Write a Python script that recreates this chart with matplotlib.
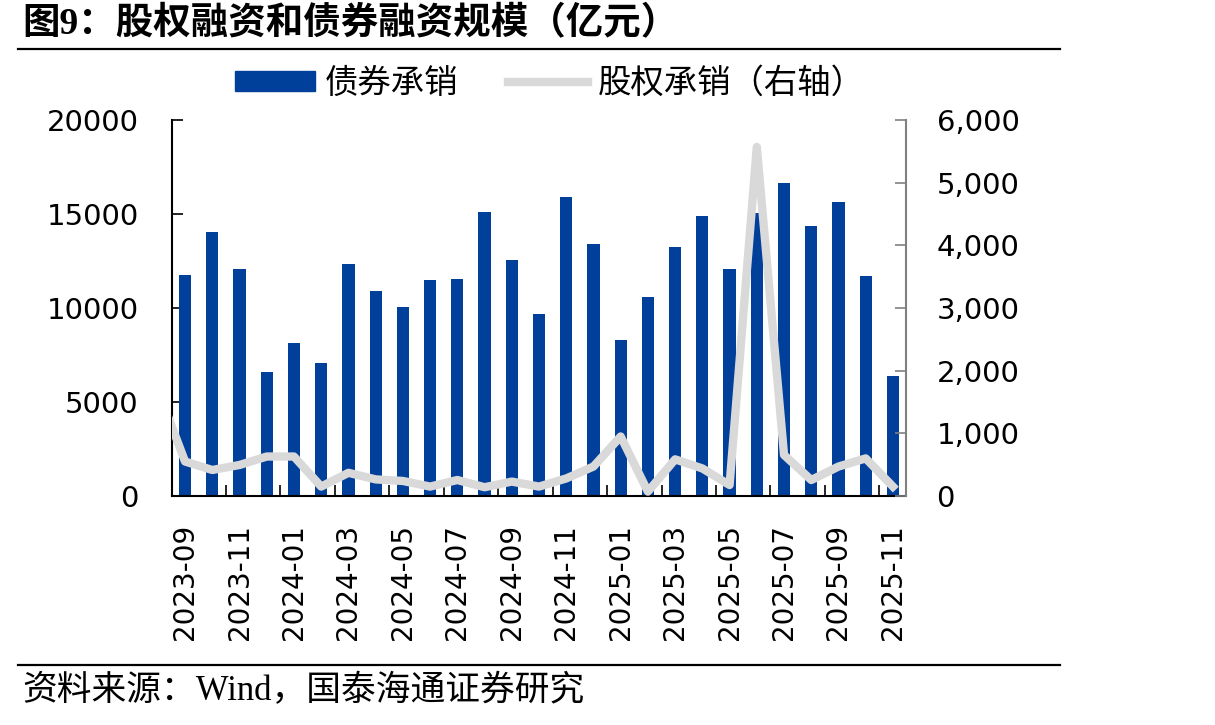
import numpy as np
import matplotlib.pyplot as plt
from matplotlib.lines import Line2D
from matplotlib.patches import Patch
from matplotlib.ticker import FuncFormatter

plt.rcParams['font.family'] = ['DejaVu Sans', 'Noto Sans CJK SC']

# 债券承销 (亿元), 2023-09 .. 2025-11
months = ['2023-09', '2023-10', '2023-11', '2023-12',
          '2024-01', '2024-02', '2024-03', '2024-04', '2024-05', '2024-06',
          '2024-07', '2024-08', '2024-09', '2024-10', '2024-11', '2024-12',
          '2025-01', '2025-02', '2025-03', '2025-04', '2025-05', '2025-06',
          '2025-07', '2025-08', '2025-09', '2025-10', '2025-11']
bond = [11740, 14040, 12070, 6580, 8140, 7070, 12340, 10890, 10040, 11470,
        11530, 15110, 12540, 9660, 15900, 13390, 8300, 10590, 13250, 14890,
        12070, 15050, 16650, 14360, 15620, 11700, 6400]

# 股权承销 (右轴), series starts one month earlier (2023-08, clipped at the axis)
eq_months = ['2023-08'] + months
equity = [1700, 550, 415, 495, 630, 630, 150, 370, 265, 240,
          150, 255, 140, 230, 150, 280, 470, 950, 70, 585,
          440, 175, 5570, 655, 255, 470, 600, 150]

blue = '#00409A'
grey_line = '#D9D9D9'

fig = plt.figure(figsize=(12.15, 7.25), dpi=100)
ax = fig.add_axes([172/1215, 1-496/725, (906-172)/1215, 376/725])
ax2 = ax.twinx()

x = np.arange(len(months))
x_eq = np.arange(len(eq_months)) - 1

ax.bar(x, bond, width=0.45, color=blue, zorder=2)
ax2.plot(x_eq, equity, color=grey_line, lw=6, zorder=3)

ax.set_xlim(-0.48, len(months) - 0.52)
ax.set_ylim(0, 20000)
ax.set_yticks([0, 5000, 10000, 15000, 20000])
ax2.set_ylim(0, 6000)
ax2.set_yticks(np.arange(0, 6001, 1000))
ax2.yaxis.set_major_formatter(FuncFormatter(lambda v, p: f'{int(v):,}'))

ax.set_xticks(x[::2])
ax.set_xticklabels(months[::2], rotation=90)
ax.set_xticks(np.arange(1.5, len(months) - 1, 2), minor=True)

ax.tick_params(axis='x', which='major', length=0, pad=20, labelsize=20)
ax.tick_params(axis='x', which='minor', direction='in', length=8, width=1.2)
ax.tick_params(axis='y', direction='in', length=8, width=1.2, pad=24, labelsize=21)
ax2.tick_params(axis='y', direction='in', length=8, width=1.2, pad=22,
                labelsize=21, color='#808080')

for a in (ax, ax2):
    a.spines['top'].set_visible(False)
ax.spines['right'].set_visible(False)
ax2.spines['left'].set_visible(False)
ax2.spines['bottom'].set_visible(False)
ax2.spines['right'].set_color('#808080')
ax2.spines['right'].set_linewidth(1.5)
ax.spines['left'].set_linewidth(1.5)
ax.spines['bottom'].set_linewidth(1.5)

handles = [Patch(color=blue), Line2D([0], [0], color=grey_line, lw=6)]
fig.legend(handles, ['债券承销', '股权承销（右轴）'], loc='center',
           bbox_to_anchor=(550/1215, 1-83/725), ncol=2, frameon=False,
           prop={'family': 'Noto Sans CJK SC', 'size': 24},
           handlelength=2.4, handleheight=0.55, handletextpad=0.3,
           columnspacing=1.5)

fig.text(22/1215, 1-24/725, '图9：股权融资和债券融资规模（亿元）',
         family=['Liberation Serif', 'Noto Sans CJK SC'], fontweight='bold',
         fontsize=27, ha='left', va='center')
fig.add_artist(Line2D([18/1215, 1060/1215], [1-49/725, 1-49/725],
                      color='black', lw=1.6))
fig.add_artist(Line2D([18/1215, 1060/1215], [1-665/725, 1-665/725],
                      color='black', lw=1.6))
fig.text(22/1215, 1-692/725, '资料来源：Wind，国泰海通证券研究',
         family=['Liberation Serif', 'Noto Sans CJK SC'],
         fontsize=25, ha='left', va='center')

fig.savefig('out.png', dpi=100)
